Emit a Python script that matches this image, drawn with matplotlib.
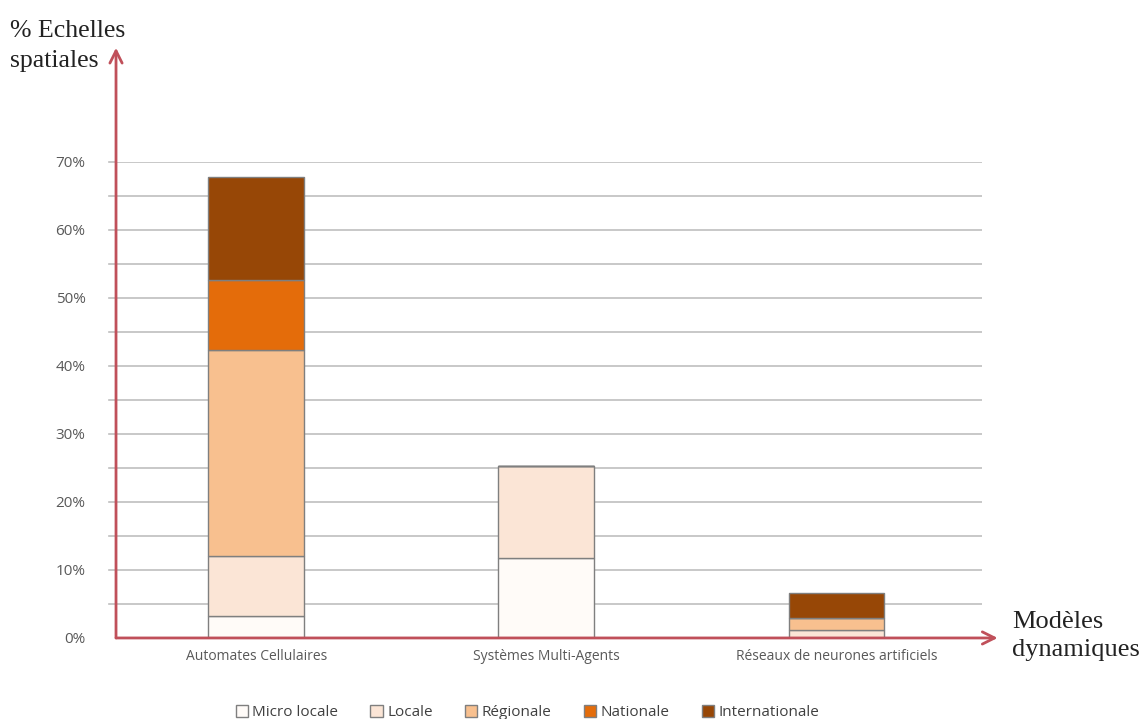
import matplotlib.pyplot as plt
import numpy as np

categories = ['Automates Cellulaires', 'Systèmes Multi-Agents',
              'Réseaux de neurones artificiels']
series = ['Micro locale', 'Locale', 'Régionale', 'Nationale', 'Internationale']
values = {
    'Micro locale': [3.2, 11.8, 0.0],
    'Locale': [8.8, 13.5, 1.2],
    'Régionale': [30.3, 0.0, 1.8],
    'Nationale': [10.3, 0.0, 0.0],
    'Internationale': [15.2, 0.0, 3.6],
}
colors = ['#FFFBF8', '#FBE5D6', '#F8C08F', '#E46C0A', '#974706']
yticks = [0, 10, 20, 30, 40, 50, 60, 70]

axis_red = '#C0505A'
text_gray = '#595959'

fig = plt.figure(figsize=(11.43, 7.19), dpi=100)
ax = fig.add_axes([0.1015, 0.1127, 0.7577, 0.662])

x = np.arange(len(categories))
bottom = np.zeros(len(categories))
for name, col in zip(series, colors):
    vals = np.array(values[name])
    ax.bar(x, vals, 0.33, bottom=bottom, color=col, edgecolor='#7F7F7F',
           linewidth=1, label=name, zorder=3)
    bottom += vals

ax.set_xlim(-0.483, 2.502)
ax.set_ylim(0, 70)

# grid every 5%
for g in np.arange(5, 71, 5):
    ax.axhline(g, color='#BFBFBF', linewidth=1.2, zorder=1)
    ax.plot([-0.008, 0], [g, g], transform=ax.get_yaxis_transform(),
            color='#BFBFBF', linewidth=1.2, clip_on=False)

for s in ax.spines.values():
    s.set_visible(False)
ax.tick_params(length=0)
ax.set_yticks(yticks)
ax.set_yticklabels([f'{t}%' for t in yticks], fontsize=11, color=text_gray,
                   family='Open Sans')
ax.tick_params(axis='y', pad=22)
ax.set_xticks(x)
ax.set_xticklabels(categories, fontsize=10, color=text_gray,
                   family='Open Sans')
ax.tick_params(axis='x', pad=8)

# arrow axes
ax.annotate('', xy=(0, 1.24), xytext=(0, 0), xycoords='axes fraction',
            arrowprops=dict(arrowstyle='->', color=axis_red, lw=2,
                            mutation_scale=22, shrinkA=0, shrinkB=0))
ax.annotate('', xy=(1.018, 0), xytext=(0, 0), xycoords='axes fraction',
            arrowprops=dict(arrowstyle='->', color=axis_red, lw=2,
                            mutation_scale=22, shrinkA=0, shrinkB=0))

fig.text(10 / 1143, 1 - 46 / 719, '% Echelles\nspatiales', family='Liberation Serif',
         fontsize=18.5, color='#222222', va='center', ha='left', linespacing=1.45)
fig.text(1012 / 1143, 1 - 636 / 719, 'Modèles\ndynamiques', family='Liberation Serif',
         fontsize=19, color='#222222', va='center', ha='left', linespacing=1.4)

ax.legend(loc='center', bbox_to_anchor=(0.475, -0.157), ncol=5,
          frameon=False, handlelength=0.8, handleheight=0.8,
          handletextpad=0.3, columnspacing=2.1,
          prop={'family': 'Open Sans', 'size': 11})
for t in ax.get_legend().get_texts():
    t.set_color('#404040')

fig.savefig('out.png', dpi=100)
